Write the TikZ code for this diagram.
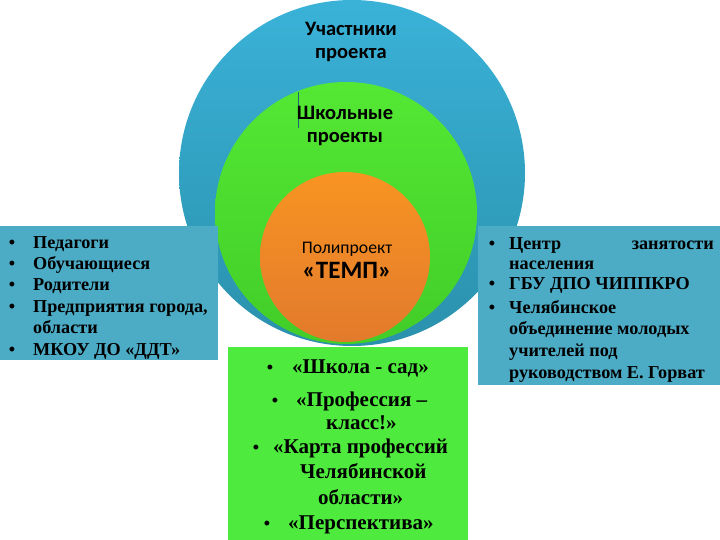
\documentclass[tikz,border=0pt]{standalone}
\usepackage{fontspec}
\setmainfont{Liberation Serif}
\newfontfamily\calfont{Carlito}
\definecolor{bluetop}{RGB}{58,178,216}
\definecolor{bluebot}{RGB}{42,145,172}
\definecolor{boxblue}{RGB}{76,172,198}
\definecolor{greentop}{RGB}{84,232,52}
\definecolor{greenbot}{RGB}{66,205,40}
\definecolor{orangetop}{RGB}{248,148,34}
\definecolor{orangebot}{RGB}{226,122,44}
\definecolor{boxgreen}{RGB}{78,235,62}
\begin{document}
\begin{tikzpicture}[x=1pt,y=-1pt,
  ltxt/.style={anchor=base west,inner sep=0pt,font=\bfseries\fontsize{18.2}{21}\selectfont},
  gtxt/.style={anchor=base west,inner sep=0pt,font=\bfseries\fontsize{21}{24}\selectfont},
  ctxt/.style={anchor=base,inner sep=0pt,font=\calfont\bfseries\fontsize{20.5}{24}\selectfont},
  bul/.style={anchor=base,inner sep=0pt,font=\bfseries\fontsize{18}{21}\selectfont}]
\useasboundingbox (0,0) rectangle (720,540);
% circles
\shade[top color=bluetop,bottom color=bluebot] (352,173) circle (173);
\shade[top color=greentop,bottom color=greenbot] (346,213) circle (131);
\shade[top color=orangetop,bottom color=orangebot] (345,257) circle (85);
\draw[bluebot!70!black,line width=0.7pt] (298,92) -- (298,128);
% boxes
\fill[boxblue] (0,226) rectangle (218,360);
\fill[boxblue] (478,226) rectangle (720,385);
\fill[boxgreen] (228,347) rectangle (468,540);
% circle texts
\node[ctxt] (u1) at (351,36) {Участники};
\node[ctxt] (u2) at (351,59) {проекта};
\node[ctxt] (s1) at (345,120) {Школьные};
\node[ctxt] (s2) at (345,143) {проекты};
\node[ctxt,font=\calfont\fontsize{17.7}{21}\selectfont] (p1) at (347,253) {Полипроект};
\node[ctxt,font=\calfont\bfseries\fontsize{25}{29}\selectfont] (p2) at (347,278) {«ТЕМП»};
% left box
\foreach \y in {248,269,290,312,355} \node[bul] at (12,\y) {•};
\node[ltxt] (l1) at (33,248) {Педагоги};
\node[ltxt] (l2) at (33,269) {Обучающиеся};
\node[ltxt] (l3) at (33,290) {Родители};
\node[ltxt] (l4) at (33,312) {Предприятия города,};
\node[ltxt] (l5) at (33,333) {области};
\node[ltxt] (l6) at (33,355) {МКОУ ДО «ДДТ»};
% right box
\foreach \y in {249,289,313} \node[bul] at (492,\y) {•};
\node[ltxt] (r1) at (509,249) {Центр};
\node[ltxt,anchor=base east] (r1b) at (714,249) {занятости};
\node[ltxt] (r2) at (509,269) {населения};
\node[ltxt] (r3) at (509,289) {ГБУ ДПО ЧИППКРО};
\node[ltxt] (r4) at (509,313) {Челябинское};
\node[ltxt] (r5) at (509,334) {объединение молодых};
\node[ltxt] (r6) at (509,356) {учителей под};
\node[ltxt] (r7) at (509,378) {руководством Е. Горват};
% green box
\node[bul] at (270,373) {•};
\node[gtxt] (g1) at (292,373) {«Школа - сад»};
\node[bul] at (275,406) {•};
\node[gtxt] (g2) at (296,406) {«Профессия –};
\node[gtxt] (g3) at (326,429) {класс!»};
\node[bul] at (256,453) {•};
\node[gtxt] (g4) at (273,453) {«Карта профессий};
\node[gtxt] (g5) at (300,478) {Челябинской};
\node[gtxt] (g6) at (318,504) {области»};
\node[bul] at (267,529) {•};
\node[gtxt] (g7) at (288,529) {«Перспектива»};
\end{tikzpicture}
\end{document}
